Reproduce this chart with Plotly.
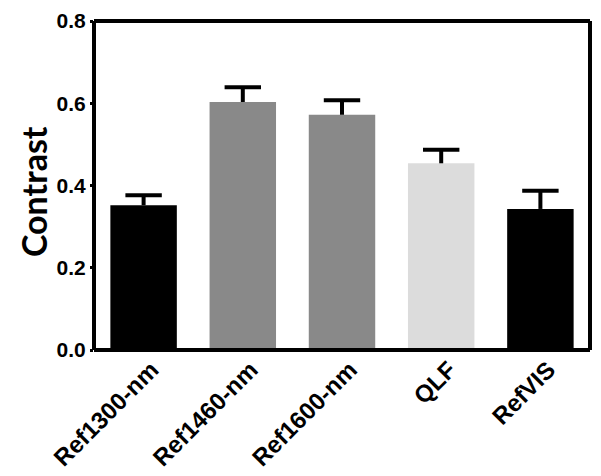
import plotly.graph_objects as go

categories = ['Ref1300-nm', 'Ref1460-nm', 'Ref1600-nm', 'QLF', 'RefVIS']
contrast = [0.352, 0.603, 0.572, 0.454, 0.343]
errors = [0.024, 0.036, 0.035, 0.033, 0.044]
bar_colors = ['#000000', '#898989', '#898989', '#dcdcdc', '#000000']
y_ticks = [0.0, 0.2, 0.4, 0.6, 0.8]

font_family = 'Liberation Sans, Arial, sans-serif'

fig = go.Figure()
fig.add_trace(go.Bar(
    x=categories, y=contrast,
    marker=dict(color=bar_colors, line=dict(width=0)),
))
# error bar: stem (no caps) from bar top up to top of error, cap drawn as marker
tops = [v + e for v, e in zip(contrast, errors)]
fig.add_trace(go.Scatter(
    x=categories, y=tops, mode='markers',
    marker=dict(symbol='line-ew-open', size=26, color='black',
                line=dict(color='black', width=4)),
    error_y=dict(type='data', symmetric=False, array=[0] * len(errors),
                 arrayminus=errors, color='black', thickness=4, width=0),
    cliponaxis=False,
))

# frame around the plot area, one line per side
for x0, x1, y0, y1 in [(0, 1, 0, 0), (0, 1, 1, 1), (0, 0, 0, 1), (1, 1, 0, 1)]:
    fig.add_shape(type='line', xref='paper', yref='paper', x0=x0, x1=x1, y0=y0, y1=y1,
                  line=dict(color='black', width=4))

# y-axis title (kept inside the figure)
fig.add_annotation(text='<b>Contrast</b>', xref='paper', yref='paper',
                   x=0, y=0.48, xshift=-61, xanchor='center', yanchor='middle',
                   textangle=-90, showarrow=False,
                   font=dict(size=34, family='Lato, sans-serif', color='black'))

fig.update_layout(
    width=601, height=476,
    margin=dict(l=86, r=19, t=13, b=134),
    paper_bgcolor='white', plot_bgcolor='white',
    showlegend=False, bargap=0.33,
    font=dict(family=font_family, color='black'),
)
fig.update_xaxes(
    showline=False, showgrid=False, ticks='', tickangle=-45, automargin=False,
    ticklabelshift=8,
    tickfont=dict(size=24, family=font_family, weight='bold'),
)
fig.update_yaxes(
    range=[0, 0.8], tickvals=y_ticks, ticktext=['%.1f' % t for t in y_ticks],
    showline=False, automargin=False,
    showgrid=False, zeroline=False, ticks='outside', ticklen=3, tickwidth=3,
    tickcolor='black',
    tickfont=dict(size=21, family=font_family, weight='bold'),
)

fig.write_html('out.html')
